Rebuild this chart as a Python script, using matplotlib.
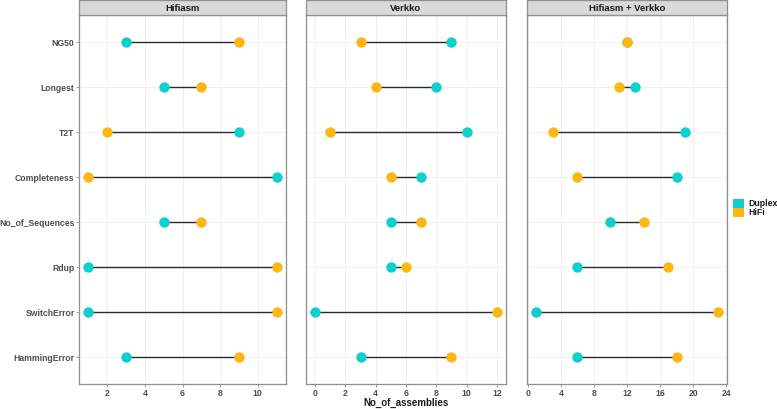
import matplotlib
matplotlib.use("Agg")
import matplotlib.pyplot as plt
from matplotlib.patches import Rectangle

plt.rcParams['font.family'] = ['Liberation Sans', 'DejaVu Sans']

metrics = ["NG50", "Longest", "T2T", "Completeness", "No_of_Sequences",
           "Rdup", "SwitchError", "HammingError"]
panels = ["Hifiasm", "Verkko", "Hifiasm + Verkko"]

hifiasm_duplex = [3, 5, 9, 11, 5, 1, 1, 3]
hifiasm_hifi = [9, 7, 2, 1, 7, 11, 11, 9]
verkko_duplex = [9, 8, 10, 7, 5, 5, 0, 3]
verkko_hifi = [3, 4, 1, 5, 7, 6, 12, 9]
combo_duplex = [12, 13, 19, 18, 10, 6, 1, 6]
combo_hifi = [12, 11, 3, 6, 14, 17, 23, 18]

duplex_vals = [hifiasm_duplex, verkko_duplex, combo_duplex]
hifi_vals = [hifiasm_hifi, verkko_hifi, combo_hifi]
xticks_list = [[2, 4, 6, 8, 10], [0, 2, 4, 6, 8, 10, 12], [0, 4, 8, 12, 16, 20, 24]]

C_DUP = "#10CFCF"
C_HIFI = "#FDB614"
TXT = "#4D4D4D"
BORDER = "#8F8F8F"

W, H = 777, 410
fig = plt.figure(figsize=(W / 100, H / 100), dpi=100)

boxes = [(79, 286), (306, 506), (527, 727)]
top_px, bot_px, strip_top = 15.5, 385, 0.8

ypos = list(range(len(metrics), 0, -1))

for i, (x0, x1) in enumerate(boxes):
    ax = fig.add_axes([x0 / W, 1 - bot_px / H, (x1 - x0) / W, (bot_px - top_px) / H])
    d = duplex_vals[i]
    h = hifi_vals[i]
    lo = [min(a, b) for a, b in zip(d, h)]
    hi = [max(a, b) for a, b in zip(d, h)]
    ax.hlines(ypos, lo, hi, color="#2b2b2b", lw=1.0, zorder=2)
    ax.scatter(d, ypos, s=56, color=C_DUP, zorder=3, linewidths=0, label="Duplex")
    ax.scatter(h, ypos, s=56, color=C_HIFI, zorder=3, linewidths=0, label="HiFi")
    allv = d + h
    mn, mx = min(allv), max(allv)
    pad = (mx - mn) * 0.05
    ax.set_xlim(mn - pad, mx + pad)
    ax.set_ylim(0.4, len(metrics) + 0.6)
    ax.set_xticks(xticks_list[i])
    ax.set_yticks(ypos)
    ax.grid(True, color="#EEEEEE", lw=0.6, zorder=0)
    ax.set_axisbelow(True)
    for s in ax.spines.values():
        s.set_color(BORDER)
        s.set_linewidth(0.9)
    ax.tick_params(axis='x', length=2, width=0.6, color=BORDER, labelsize=6.2,
                   labelcolor=TXT, pad=1)
    for lab in ax.get_xticklabels():
        lab.set_fontweight('bold')
    if i == 0:
        ax.set_yticklabels(metrics)
        ax.tick_params(axis='y', length=2, width=0.6, color=BORDER, labelsize=6.2,
                       labelcolor=TXT, pad=1.2)
        for lab in ax.get_yticklabels():
            lab.set_fontweight('bold')
    else:
        ax.set_yticklabels([])
        ax.tick_params(axis='y', length=0)

    sax = fig.add_axes([x0 / W, 1 - top_px / H, (x1 - x0) / W, (top_px - strip_top) / H])
    sax.set_xticks([])
    sax.set_yticks([])
    sax.set_facecolor("#D9D9D9")
    for s in sax.spines.values():
        s.set_color(BORDER)
        s.set_linewidth(0.9)
    sax.text(0.5, 0.5, panels[i], ha='center', va='center', fontsize=6.8,
             fontweight='bold', color="#1a1a1a", transform=sax.transAxes)

x0, x1 = boxes[1]
fig.text((x0 + x1) / 2 / W, 1 - 403 / H, "No_of_assemblies", ha='center',
         va='center', fontsize=7, fontweight='bold', color="#1a1a1a")

# legend
lx0, lx1 = 732.5, 743.5
for j, (lab, col) in enumerate([("Duplex", C_DUP), ("HiFi", C_HIFI)]):
    ytop = 199.5 + j * 9
    fig.patches.append(Rectangle((lx0 / W, 1 - (ytop + 9) / H), (lx1 - lx0) / W, 9 / H,
                                 transform=fig.transFigure, color=col, lw=0))
    fig.text(748 / W, 1 - (ytop + 4.5) / H, lab, ha='left', va='center',
             fontsize=6.3, fontweight='bold', color="#1a1a1a")

fig.savefig("out.png", dpi=100)
